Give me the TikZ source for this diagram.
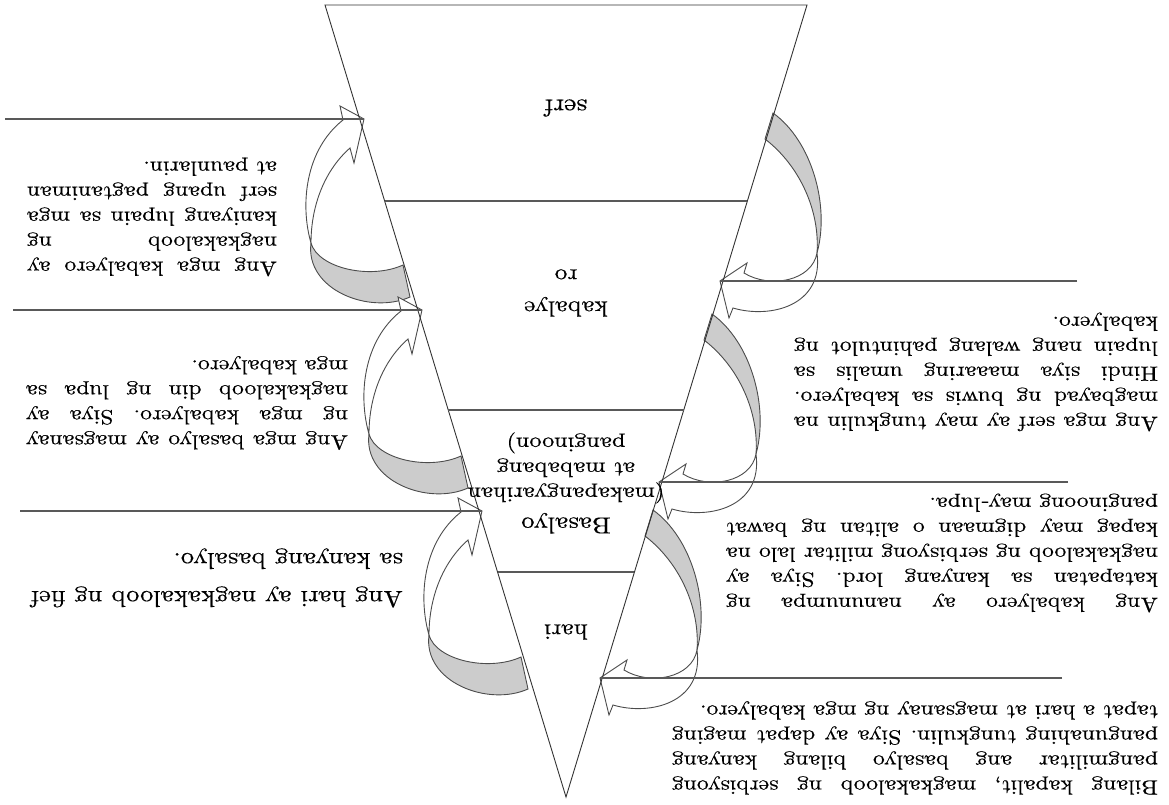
\documentclass[tikz,border=0pt]{standalone}
\usepackage{fontspec}
\newfontfamily\bookfont{lmroman10-regular.otf}[FakeStretch=1.15,FakeBold=0.4]
\usetikzlibrary{calc,positioning}
\tolerance=10000
\hyphenpenalty=10000

\begin{document}
\begin{tikzpicture}[x=1pt,y=-1pt,
		edge/.style={draw=black!80,line width=0.9pt},
		divline/.style={draw=black!65,line width=1.6pt},
		feed/.style={draw=black!65,line width=1.8pt},
		curlgray/.style={fill=black!20,draw=black!70,line width=0.9pt},
		curlwhite/.style={fill=white,draw=black!70,line width=0.9pt},
		sidetext/.style={rotate=180,inner sep=0pt,align=justify,font=\bookfont\fontsize{20.5}{25}\selectfont\frenchspacing},
		midtext/.style={rotate=180,inner sep=0pt,align=center,font=\bookfont\fontsize{21}{25}\selectfont},
		curlleft/.pic={
			\filldraw[curlgray] (-53,124) .. controls (-46,149) and (6,161) .. (39,146) -- (46,178) .. controls (6,196) and (-59,171) .. cycle;
			\filldraw[curlwhite] (-53,124) .. controls (-64,86) and (-59,31) .. (-21,1) -- (-24,-13) -- (0,0) -- (-10,44) -- (-14,29) .. controls (-39,51) and (-53,86) .. cycle;
		},
		curlright/.pic={
			\filldraw[curlgray] (97,-28) .. controls (110,-75) and (92,-140) .. (53,-168) -- (45,-142) .. controls (80,-115) and (100,-70) .. cycle;
			\filldraw[curlwhite] (97,-28) .. controls (104,25) and (50,38) .. (13,27) -- (9,37) -- (0,0) -- (27,-18) -- (24,-8) .. controls (50,8) and (92,0) .. cycle;
		}]
	\useasboundingbox (0,0) rectangle (1169,805);
	% triangle corners and arrow tips
	\coordinate (tl) at (325,5);
	\coordinate (tr) at (807,5);
	\coordinate (ap) at (566,797);
	\coordinate (tipA) at (364,119);
	\coordinate (tipB) at (422,310);
	\coordinate (tipC) at (482,511);
	\coordinate (tipD) at (720,281);
	\coordinate (tipE) at (659,482);
	\coordinate (tipF) at (600,678);
	\coordinate (endA) at (5,119);
	\coordinate (endB) at (13,310);
	\coordinate (endC) at (20,511);
	\coordinate (endD) at (1077,281);
	\coordinate (endE) at (1068,482);
	\coordinate (endF) at (1062,678);
	% curved arrows
	\foreach \t in {tipA,tipB,tipC} \pic at (\t) {curlleft};
	\foreach \t in {tipD,tipE,tipF} \pic at (\t) {curlright};
	% levels
	\draw[edge] (tl) -- (tr) -- (ap) -- cycle;
	\foreach \f in {0.2475,0.5114,0.7159} \draw[divline] ($(tl)!\f!(ap)$) -- ($(tr)!\f!(ap)$);
	\node[midtext,font=\bookfont\fontsize{24}{25}\selectfont] (serf) at (566,108) {serf};
	\node[midtext,font=\bookfont\fontsize{22}{32}\selectfont] (kabalyero) at (566,293) {kabalye\\ro};
	\node[midtext] (basalyo) at (566,483) {{\fontsize{23}{25}\selectfont Basalyo}\\[5pt](makapangyarihan\\at mababang\\panginoon)};
	\node[midtext,font=\bookfont\fontsize{22}{25}\selectfont] (hari) at (566,632) {hari};
	% lines
	\foreach \a/\b in {endA/tipA,endB/tipB,endC/tipC,endD/tipD,endE/tipE,endF/tipF} \draw[feed] (\a) -- (\b);
	% texts
	\node[sidetext,text width=250pt] (serfland) at (152,217) {Ang mga kabalyero ay\linebreak nagkakaloob ng\linebreak kaniyang lupain sa mga\linebreak serf upang pagtaniman\linebreak at paunlarin.};
	\node[sidetext,text width=322pt] (vassaltrain) at (187,403) {Ang mga basalyo ay magsanay\linebreak ng mga kabalyero. Siya ay\linebreak nagkakaloob din ng lupa sa\linebreak mga kabalyero.};
	\node[sidetext,text width=372pt,font=\bookfont\fontsize{23}{38}\selectfont] (kingfief) at (217,578) {Ang hari ay nagkakaloob ng fief\linebreak sa kanyang basalyo.};
	\node[sidetext,text width=364pt] (serfduty) at (976,372) {Ang mga serf ay may tungkulin na\linebreak magbayad ng buwis sa kabalyero.\linebreak Hindi siya maaaring umalis sa\linebreak lupain nang walang pahintulot ng\linebreak kabalyero.};
	\node[sidetext,text width=432pt] (knightoath) at (942,553) {Ang kabalyero ay nanunumpa ng\linebreak katapatan sa kanyang lord. Siya ay\linebreak nagkakaloob ng serbisyong militar lalo na\linebreak kapag may digmaan o alitan ng bawat\linebreak panginoong may-lupa.};
	\node[sidetext,text width=486pt] (vassalserve) at (915,748) {Bilang kapalit, magkakaloob ng serbisyong\linebreak pangmilitar ang basalyo bilang kanyang\linebreak pangunahing tungkulin. Siya ay dapat maging\linebreak tapat a hari at magsanay ng mga kabalyero.};
\end{tikzpicture}
\end{document}
